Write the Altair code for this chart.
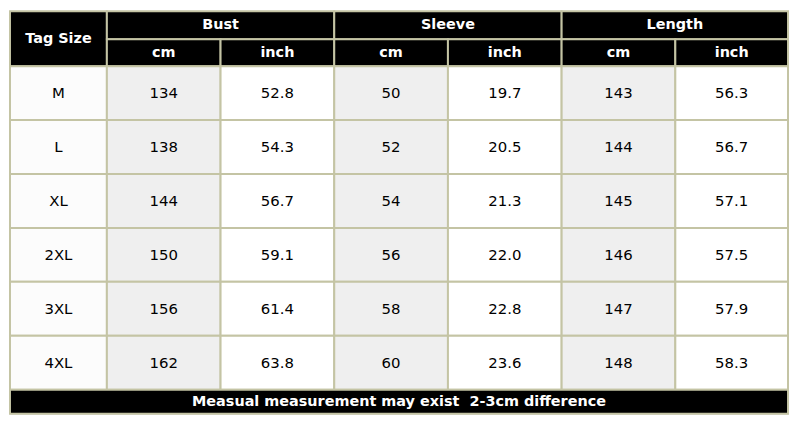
import altair as alt
import pandas as pd

# ---- data ----
sizes = ["M", "L", "XL", "2XL", "3XL", "4XL"]
bust_cm = ["134", "138", "144", "150", "156", "162"]
bust_in = ["52.8", "54.3", "56.7", "59.1", "61.4", "63.8"]
sleeve_cm = ["50", "52", "54", "56", "58", "60"]
sleeve_in = ["19.7", "20.5", "21.3", "22.0", "22.8", "23.6"]
length_cm = ["143", "144", "145", "146", "147", "148"]
length_in = ["56.3", "56.7", "57.1", "57.5", "57.9", "58.3"]
groups = ["Bust", "Sleeve", "Length"]
units = ["cm", "inch"]
first_header = "Tag Size"
footer_text = "Measual measurement may exist\u00a0 2-3cm difference"

# ---- layout (table units) ----
col_edges = [0, 98, 213, 328, 443, 558, 673, 787]
head_edges = [0, 29, 57]
row_edges = [57, 113, 169, 225, 281, 337, 393]
foot_edges = [393, 418]
TOTAL_W, TOTAL_H = 787, 418

GRID = "#c4c4a4"
CM_FILL = "#efefef"
IN_FILL = "#ffffff"
TAG_FILL = "#fcfcfc"
HEAD_FILL = "#000000"

columns = [sizes, bust_cm, bust_in, sleeve_cm, sleeve_in, length_cm, length_in]

cells = []
head_txt = []
body_txt = []

# header
cells.append(dict(x=col_edges[0], x2=col_edges[1], y=head_edges[0], y2=head_edges[2], fill=HEAD_FILL))
head_txt.append(dict(x=col_edges[0], x2=col_edges[1], y=head_edges[0], y2=head_edges[2], t=first_header))
for gi, g in enumerate(groups):
    a = col_edges[1 + 2 * gi]
    b = col_edges[3 + 2 * gi]
    cells.append(dict(x=a, x2=b, y=head_edges[0], y2=head_edges[1], fill=HEAD_FILL))
    head_txt.append(dict(x=a, x2=b, y=head_edges[0], y2=head_edges[1], t=g))
    for ui, u in enumerate(units):
        c0 = col_edges[1 + 2 * gi + ui]
        c1 = col_edges[2 + 2 * gi + ui]
        cells.append(dict(x=c0, x2=c1, y=head_edges[1], y2=head_edges[2], fill=HEAD_FILL))
        head_txt.append(dict(x=c0, x2=c1, y=head_edges[1], y2=head_edges[2], t=u))

# body
for ci, col in enumerate(columns):
    fill = TAG_FILL if ci == 0 else (CM_FILL if ci % 2 == 1 else IN_FILL)
    for ri, v in enumerate(col):
        d = dict(x=col_edges[ci], x2=col_edges[ci + 1], y=row_edges[ri], y2=row_edges[ri + 1])
        cells.append(dict(d, fill=fill))
        body_txt.append(dict(d, t=v))

# footer
cells.append(dict(x=col_edges[0], x2=col_edges[-1], y=foot_edges[0], y2=foot_edges[1], fill=HEAD_FILL))
head_txt.append(dict(x=col_edges[0], x2=col_edges[-1], y=foot_edges[0], y2=foot_edges[1], t=footer_text))

cells_df = pd.DataFrame(cells)
head_df = pd.DataFrame(head_txt)
body_df = pd.DataFrame(body_txt)
for df in (head_df, body_df):
    df["xc"] = (df["x"] + df["x2"]) / 2
    df["yc"] = (df["y"] + df["y2"]) / 2

xs = alt.Scale(domain=[0, TOTAL_W], nice=False, zero=False)
ys = alt.Scale(domain=[0, TOTAL_H], nice=False, zero=False, reverse=True)

rects = alt.Chart(cells_df).mark_rect(stroke=GRID, strokeWidth=2).encode(
    x=alt.X("x:Q", scale=xs, axis=None),
    x2="x2:Q",
    y=alt.Y("y:Q", scale=ys, axis=None),
    y2="y2:Q",
    fill=alt.Fill("fill:N", scale=None),
)

head = alt.Chart(head_df).mark_text(
    font="DejaVu Sans", fontSize=14.5, fontWeight="bold", color="white",
    align="center", baseline="middle",
).encode(
    x=alt.X("xc:Q", scale=xs, axis=None),
    y=alt.Y("yc:Q", scale=ys, axis=None),
    text="t:N",
)

body = alt.Chart(body_df).mark_text(
    font="DejaVu Sans", fontSize=15, color="black",
    align="center", baseline="middle",
).encode(
    x=alt.X("xc:Q", scale=xs, axis=None),
    y=alt.Y("yc:Q", scale=ys, axis=None),
    text="t:N",
)

chart = alt.layer(rects, head, body).properties(
    width=783, height=405, padding=1
).configure_view(stroke=None).configure(background="white")

chart.save("out.html", embed_options={"renderer": "svg", "actions": False})
